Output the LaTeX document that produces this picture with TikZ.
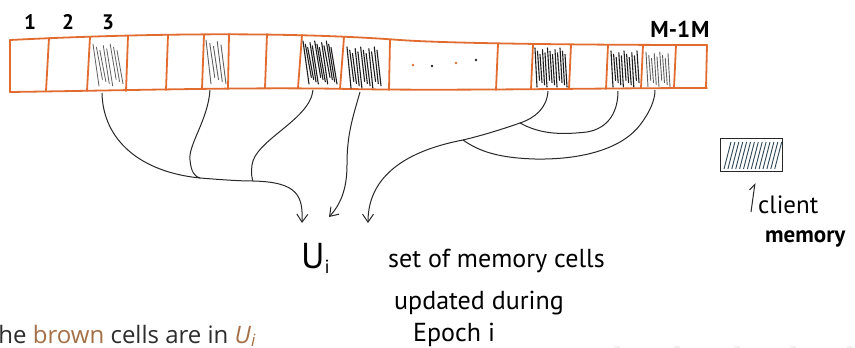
\documentclass[tikz,border=0pt]{standalone}
\usepackage{fontspec}
\setmainfont{Open Sans}
\newfontfamily\hand{PT Sans}
\usetikzlibrary{arrows.meta}

\definecolor{tapeorange}{RGB}{226,108,48}
\definecolor{inkdark}{RGB}{40,40,40}
\definecolor{hatchdark}{RGB}{30,30,30}
\definecolor{hatchgrey}{RGB}{95,95,95}
\definecolor{clientblue}{RGB}{45,70,85}
\definecolor{browntext}{RGB}{165,112,72}
\definecolor{typedgrey}{RGB}{45,45,45}

% hatching of one cell: x0 x1 ytop ybot count slant colour width
\newcommand\hatchcell[8]{%
  \pgfmathtruncatemacro\hn{#5-1}%
  \foreach \k in {0,...,\hn}{%
    \pgfmathsetmacro\hx{#1+\k*(#2-#1)/\hn}%
    \pgfmathsetmacro\ht{#3+mod(\k*7,5)*1.6}%
    \pgfmathsetmacro\hb{#4-mod(\k*3,4)*2.2}%
    \draw[#7,line width=#8,line cap=round] (\hx,\ht) -- (\hx+#6,\hb);
  }}

\tikzset{
  tape/.style={tapeorange,line width=1.8pt,line cap=round,line join=round},
  conn/.style={inkdark,line width=1pt},
  arr/.style={conn,-{Straight Barb[length=8pt,width=11pt]}},
  handtxt/.style={inner sep=0pt,anchor=base west,font=\hand},
}

\begin{document}
\begin{tikzpicture}[x=1pt,y=-1pt]
\useasboundingbox (0,0) rectangle (855,348);
\clip (0,0) rectangle (855,348);
\fill[white] (0,0) rectangle (855,348);

% memory tape
\draw[tape] (10,40) .. controls (130,34) and (280,31) .. (400,40)
            .. controls (440,43) and (560,45) .. (707,45);
\draw[tape] (10,92) .. controls (150,90) and (250,87) .. (350,89)
            .. controls (450,91) and (600,88) .. (707,88);
\foreach \xt/\yt/\xb/\yb in {10/40/10/92, 49/38/46/91, 90/37/87/91, 128/36/126/91,
    168/35/166/90, 204/35/202/89, 229/34/228/89, 267/34/265/88, 302/35/298/88,
    344/37/340/89, 390/40/389/90, 498/44/496/90, 533/45/531/89, 571/45/569/89,
    608/45/606/89, 643/45/641/88, 676/45/674/88, 707/45/706/88}
  \draw[tape] (\xt,\yt) -- (\xb,\yb);

% dots between the two halves
\fill[tapeorange] (413,65) circle (1.4);
\fill[inkdark] (432,66) circle (1.3);
\fill[tapeorange] (456,63) circle (1.4);
\fill[inkdark] (476,60) circle (1.3);

% hatched (client-held) cells
\hatchcell{93}{117}{44}{86}{8}{6}{hatchgrey}{0.8pt}
\hatchcell{206}{221}{40}{84}{5}{5}{hatchgrey}{0.9pt}
\hatchcell{303}{331}{41}{84}{13}{6}{hatchdark}{1.1pt}
\hatchcell{347}{377}{47}{88}{12}{4}{hatchdark}{1.1pt}
\hatchcell{535}{565}{48}{87}{13}{2}{hatchdark}{1.1pt}
\hatchcell{611}{637}{51}{87}{11}{2}{hatchdark}{1.1pt}
\hatchcell{646}{668}{52}{87}{9}{2}{hatchgrey}{0.9pt}

% cell indices
\node[handtxt,anchor=base,font=\hand\bfseries\fontsize{21}{22}\selectfont] (n1) at (30,29) {1};
\node[handtxt,anchor=base,font=\hand\bfseries\fontsize{21}{22}\selectfont] (n2) at (68,29) {2};
\node[handtxt,anchor=base,font=\hand\bfseries\fontsize{21}{22}\selectfont] (n3) at (108,29) {3};
\node[handtxt,anchor=base,font=\hand\bfseries\fontsize{23}{24}\selectfont] (nm) at (680,37) {M-1\kern1ptM};

% attachment points on the tape
\coordinate (c3) at (102,93);
\coordinate (c6) at (210,90);
\coordinate (c9) at (313,90);
\coordinate (c10) at (360,92);
\coordinate (c13) at (548,91);
\coordinate (c15) at (618,91);
\coordinate (c16) at (655,90);
% junctions
\coordinate (j1) at (200,178);
\coordinate (j2) at (253,181);
\coordinate (j3) at (520,123);
\coordinate (j4) at (463,140);
% arrow tips
\coordinate (a1) at (302,223);
\coordinate (a2) at (329,217);
\coordinate (a3) at (368,223);

% connectors of the left group
\draw[arr] (c3) .. controls (103,140) and (140,172) .. (j1)
   .. controls (225,180) and (240,181) .. (j2)
   .. controls (298,182) and (303,196) .. (a1);
\draw[conn] (c6) .. controls (208,120) and (188,145) .. (190,160)
   .. controls (191,172) and (195,177) .. (j1);
\draw[conn] (c9) .. controls (310,120) and (255,140) .. (252,165)
   .. controls (251,174) and (252,179) .. (j2);
\draw[arr] (c10) .. controls (352,120) and (347,135) .. (347,165)
   .. controls (347,190) and (340,205) .. (a2);

% connectors of the right group
\draw[arr] (c13) .. controls (547,108) and (535,118) .. (j3)
   .. controls (500,130) and (480,136) .. (j4)
   .. controls (400,152) and (368,180) .. (a3);
\draw[conn] (j3) .. controls (540,134) and (560,135) .. (587,132)
   .. controls (610,128) and (618,110) .. (c15);
\draw[conn] (j4) .. controls (480,152) and (500,158) .. (535,159)
   .. controls (590,160) and (625,145) .. (640,125)
   .. controls (650,112) and (655,100) .. (c16);

% set label
\node[handtxt,font=\hand\fontsize{36}{38}\selectfont] (ui) at (301,268)
  {U\raisebox{-5pt}{\fontsize{19}{20}\selectfont i}};
\node[handtxt,font=\hand\fontsize{26}{28}\selectfont] (l1) at (388,267) {set of memory cells};
\node[handtxt,font=\hand\fontsize{26}{28}\selectfont] (l2) at (394,309) {updated during};
\node[handtxt,font=\hand\fontsize{26}{28}\selectfont] (l3) at (413,341) {Epoch i};

% client memory legend
\node[draw=inkdark,line width=1pt,minimum width=62pt,minimum height=33pt,inner sep=0pt]
  (cm) at (751,155) {};
\foreach \i in {0,...,13}
  \draw[clientblue,line width=0.9pt] (724+\i*3.9,169) -- (731+\i*3.9,142);
\coordinate (ca) at (751,212);
\coordinate (cb) at (755,183);
\draw[conn,-{Straight Barb[harpoon,length=6pt,width=9pt]}] (ca) -- (cb);
\node[handtxt,font=\hand\fontsize{25}{26}\selectfont] (cl) at (758,213) {client};
\node[handtxt,font=\hand\bfseries\fontsize{23}{24}\selectfont] (cmem) at (765,242) {memory};

% typed caption along the bottom edge
\node[inner sep=0pt,anchor=base west,font=\fontsize{24}{26}\selectfont,text=typedgrey] (cap) at (-15,343)
  {The \textcolor{browntext}{brown} cells are in \textcolor{browntext}{\textit{U}\textsubscript{\textit{i}}}};

% faint window controls at the lower right
\foreach \x in {617,677,737,793,850}
  \fill[gray!12] (\x-3,346) rectangle (\x+3,348);
\end{tikzpicture}
\end{document}
